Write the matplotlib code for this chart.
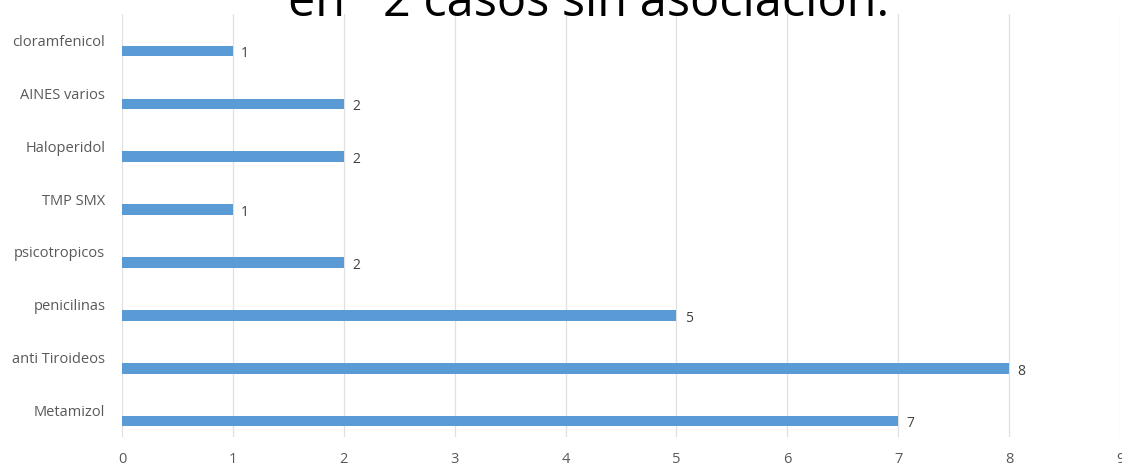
import numpy as np
import matplotlib.pyplot as plt

# data, bottom to top as drawn
categories = ["Metamizol", "anti Tiroideos", "penicilinas", "psicotropicos",
              "TMP SMX", "Haloperidol", "AINES varios", "cloramfenicol"]
values = [7, 8, 5, 2, 1, 2, 2, 1]
title = "en   2 casos sin asociación."

plt.rcParams['font.family'] = ['Open Sans', 'DejaVu Sans']

W, H = 1122, 466
fig = plt.figure(figsize=(W / 100, H / 100), dpi=100)
ax = fig.add_axes([122 / W, 1 - 437 / H, (1120 - 122) / W, (437 - 14) / H])

y = np.arange(len(categories))
bars = ax.barh(y - 0.2, values, height=0.2, color='#5B9BD5', zorder=3)

for yi, v in zip(y, values):
    ax.annotate(str(v), (v, yi - 0.2), xytext=(6, -2), textcoords='offset points',
                va='center', ha='left', fontsize=10, color='#404040')

ax.set_xlim(0, 9)
ax.set_ylim(-0.5, len(categories) - 0.5)
ax.set_xticks(range(10))
ax.set_yticks(y)
ax.set_yticklabels(categories)
ax.tick_params(axis='both', length=0, labelsize=10.5, colors='#595959')
ax.tick_params(axis='y', pad=12)
ax.tick_params(axis='x', pad=11)
ax.grid(axis='x', color='#E0E0E0', linewidth=0.9, zorder=0)
for s in ax.spines.values():
    s.set_visible(False)

fig.text(288 / W, 1 - 16 / H, title, ha='left', va='baseline',
         fontsize=35, color='#000000')

fig.savefig("out.png", dpi=100)
